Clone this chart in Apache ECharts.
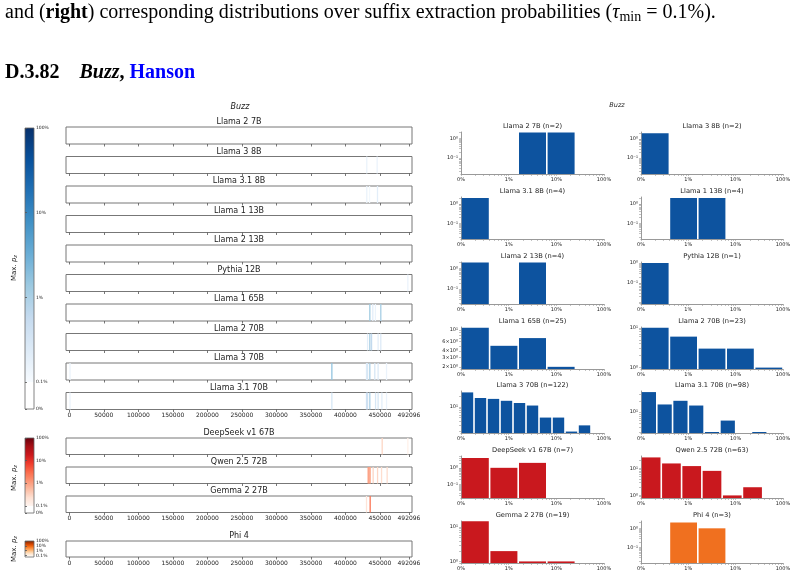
<!DOCTYPE html>
<html>
<head>
<meta charset="utf-8">
<title>Buzz</title>
<script src="https://cdn.jsdelivr.net/npm/echarts@6/dist/echarts.min.js"></script>
<style>body{margin:0;background:#fff;}</style>
</head>
<body>
<div id="main" style="width:797px;height:578px;"></div>
<script type="text/javascript">
// ---- data ----
var stripModels = ['Llama 2 7B', 'Llama 3 8B', 'Llama 3.1 8B', 'Llama 1 13B', 'Llama 2 13B',
    'Pythia 12B', 'Llama 1 65B', 'Llama 2 70B', 'Llama 3 70B', 'Llama 3.1 70B',
    'DeepSeek v1 67B', 'Qwen 2.5 72B', 'Gemma 2 27B', 'Phi 4'];
var stripCmap = ['Blues', 'Blues', 'Blues', 'Blues', 'Blues', 'Blues', 'Blues', 'Blues', 'Blues', 'Blues',
    'Reds', 'Reds', 'Reds', 'Oranges'];
// [suffix index, max p_z in %]
var stripHits = [
    [],
    [[431000, 0.15], [446000, 0.15]],
    [[431000, 0.15], [435000, 0.12], [446500, 0.2]],
    [],
    [],
    [[490500, 0.15]],
    [[435400, 1.3], [439700, 0.2], [443500, 0.15], [451300, 1.1]],
    [[432100, 0.2], [435400, 1.1], [437900, 0.6], [447400, 0.2], [451300, 0.25]],
    [[1000, 0.15], [380400, 1.6], [430600, 0.25], [432100, 0.3], [435400, 1.0], [442600, 0.3], [447400, 0.25], [459600, 0.15]],
    [[1000, 0.15], [380400, 0.3], [430600, 0.4], [432100, 0.4], [435400, 1.0], [443700, 0.3], [447400, 0.3], [452900, 0.2], [459600, 0.15]],
    [[453300, 0.3], [490500, 0.12]],
    [[433000, 1.0], [434400, 1.2], [435900, 0.8], [440200, 0.3], [446600, 0.3], [452400, 0.25], [460500, 0.25]],
    [[430600, 0.2], [435900, 2.5]],
    []
];
var posTicks = [0, 50000, 100000, 150000, 200000, 250000, 300000, 350000, 400000, 450000, 492096];
var cbarLabels = ['0%', '0.1%', '1%', '10%', '100%'];

var histTitles = ['Llama 2 7B (n=2)', 'Llama 3 8B (n=2)', 'Llama 3.1 8B (n=4)', 'Llama 1 13B (n=4)',
    'Llama 2 13B (n=4)', 'Pythia 12B (n=1)', 'Llama 1 65B (n=25)', 'Llama 2 70B (n=23)',
    'Llama 3 70B (n=122)', 'Llama 3.1 70B (n=98)', 'DeepSeek v1 67B (n=7)', 'Qwen 2.5 72B (n=63)',
    'Gemma 2 27B (n=19)', 'Phi 4 (n=3)'];
var histCounts = [
    [0, 0, 2, 2, 0],
    [2, 0, 0, 0, 0],
    [2, 0, 0, 0, 0],
    [0, 2, 2, 0, 0],
    [2, 0, 2, 0, 0],
    [1, 0, 0, 0, 0],
    [11, 5, 7, 2, 0],
    [10, 6, 3, 3, 1],
    [26, 18, 17, 15, 13, 11, 5, 5, 2, 3, 0],
    [34, 16, 20, 15, 3, 6, 0, 3, 0],
    [4, 1, 2, 0, 0],
    [25, 15, 12, 8, 1, 2, 0],
    [15, 2, 1, 1, 0],
    [0, 2, 1, 0, 0]
];
var histColor = ['blue', 'blue', 'blue', 'blue', 'blue', 'blue', 'blue', 'blue', 'blue', 'blue', 'red', 'red', 'red', 'orange'];
var histYTicks = [[0.1, 1], [0.1, 1], [0.1, 1], [0.1, 1], [0.1, 1], [0.1, 1], [2, 3, 4, 6, 10], [1, 10],
    [10], [10], [0.1, 1], [1, 10], [1, 10], [0.1, 1]];
var histXLabels = ['0%', '1%', '10%', '100%'];

// ---- layout / style ----
var histYRange = [[-1.83, 0.33], [-1.84, 0.36], [-1.8, 0.35], [-1.8, 0.35], [-1.75, 0.33], [-2.07, 0.05],
    [0.26, 1.055], [-0.035, 1.02], [0.26, 1.455], [0.45, 1.56], [-1.84, 0.72], [-0.095, 1.45],
    [-0.046, 1.18], [-1.8, 0.38]];
var stripTops = [127, 156.5, 186, 215.5, 245, 274.5, 304, 333.5, 363, 392.5, 438, 467, 496, 541];
var stripH = [17, 17, 17, 17, 17, 17, 17, 17, 17, 17, 16.5, 16.5, 16.5, 16];
var stripLabelled = [9, 12, 13];
var histTops = [132, 197, 262, 327, 391, 456, 521];
var barColors = {blue: '#0d539f', red: '#c9181e', orange: '#f0701f'};
var palettes = {
    Blues: ['#f7fbff', '#deebf7', '#c6dbef', '#9ecae1', '#6baed6', '#4292c6', '#2171b5', '#08519c', '#08306b'],
    Reds: ['#fff5f0', '#fee0d2', '#fcbba1', '#fc9272', '#fb6a4a', '#ef3b2c', '#cb181d', '#a50f15', '#67000d'],
    Oranges: ['#fff5eb', '#fee6ce', '#fdd0a2', '#fdae6b', '#fd8d3c', '#f16913', '#d94801', '#a63603', '#7f2704']
};
var LIN = 0.318; // share of one decade given to the 0 - 0.1% part of the colour scale
var FONT = 'DejaVu Sans';

function hexToRgb(h) {
    return [parseInt(h.substr(1, 2), 16), parseInt(h.substr(3, 2), 16), parseInt(h.substr(5, 2), 16)];
}
function cmapAt(name, t) {
    var p = palettes[name];
    t = Math.max(0, Math.min(1, t)) * (p.length - 1);
    var i = Math.min(Math.floor(t), p.length - 2), f = t - i;
    var a = hexToRgb(p[i]), b = hexToRgb(p[i + 1]);
    return 'rgb(' + [0, 1, 2].map(function (k) { return Math.round(a[k] + (b[k] - a[k]) * f); }).join(',') + ')';
}
function cmapColor(name, pct) {
    if (pct < 0.1) return '#ffffff';
    return cmapAt(name, (Math.log10(pct) + 1) / 3);
}
var SUP = {'0': '\u2070', '1': '\u00b9', '2': '\u00b2', '3': '\u00b3', '-': '\u207b'};
function sup(s) {
    return String(s).split('').map(function (c) { return SUP[c] || c; }).join('');
}
function fmtCount(c) {
    var e = Math.floor(Math.log10(c) + 1e-9);
    var m = Math.round(c / Math.pow(10, e));
    return m === 1 ? '10' + sup(e) : m + '\u00d710' + sup(e);
}

var grids = [], xAxes = [], yAxes = [], series = [], graphics = [];

function addText(x, y, text, size, opts) {
    opts = opts || {};
    graphics.push({
        type: 'text', x: x, y: y, rotation: opts.rotation || 0, silent: true,
        style: {
            text: text, fill: opts.color || '#222', align: opts.align || 'center', verticalAlign: 'middle',
            fontSize: size, fontFamily: opts.family || FONT, fontStyle: opts.style || 'normal',
            fontWeight: opts.weight || 'normal', rich: opts.rich
        }
    });
}

// ---- left: position strips ----
stripModels.forEach(function (name, i) {
    var g = grids.length;
    grids.push({left: 66, top: stripTops[i], width: 346, height: stripH[i], show: true,
        borderColor: '#777', borderWidth: 1, backgroundColor: '#fff'});
    var showLab = stripLabelled.indexOf(i) >= 0;
    xAxes.push({
        type: 'value', gridIndex: g, min: -4800, max: 496500,
        axisLine: {show: false}, splitLine: {show: false},
        axisTick: {show: true, length: 2.5, customValues: posTicks, lineStyle: {color: '#555', width: 0.8}},
        axisLabel: {show: showLab, customValues: posTicks, fontSize: 6, color: '#222', margin: 3,
            fontFamily: FONT, formatter: function (v) { return String(v); }}
    });
    yAxes.push({type: 'value', gridIndex: g, min: 0, max: 1, show: false});
    series.push({
        type: 'bar', xAxisIndex: xAxes.length - 1, yAxisIndex: yAxes.length - 1,
        barWidth: 1.3, silent: true,
        data: stripHits[i].map(function (h) {
            return {value: [h[0], 1], itemStyle: {color: cmapColor(stripCmap[i], h[1])}};
        })
    });
    addText(239, stripTops[i] - 5, name, 8);
});

// ---- colour bars ----
var cbars = [
    {cmap: 'Blues', top: 128, height: 281, labelY: 268, labels: [0, 1, 2, 3, 4]},
    {cmap: 'Reds', top: 438, height: 75, labelY: 478, labels: [0, 1, 2, 3, 4]},
    {cmap: 'Oranges', top: 541, height: 16, labelY: 549, labels: [1, 2, 3, 4]}
];
var cbarPos = [0, LIN, LIN + 1, LIN + 2, LIN + 3];
cbars.forEach(function (cb) {
    var g = grids.length;
    var off = LIN / (LIN + 3);
    var stops = [{offset: 0, color: '#ffffff'}, {offset: off, color: '#ffffff'}];
    palettes[cb.cmap].forEach(function (c, k, arr) {
        stops.push({offset: off + (1 - off) * k / (arr.length - 1), color: c});
    });
    grids.push({left: 25, width: 9, top: cb.top, height: cb.height, show: true,
        borderColor: '#666', borderWidth: 0.8,
        backgroundColor: new echarts.graphic.LinearGradient(0, 1, 0, 0, stops)});
    xAxes.push({type: 'value', gridIndex: g, min: 0, max: 1, show: false});
    var vals = cb.labels.map(function (k) { return cbarPos[k]; });
    yAxes.push({
        type: 'value', gridIndex: g, min: 0, max: LIN + 3, position: 'right',
        axisLine: {show: false}, splitLine: {show: false},
        axisTick: {show: true, length: 2, customValues: vals, lineStyle: {color: '#555', width: 0.8}},
        axisLabel: {customValues: vals, fontSize: 4.5, color: '#222', margin: 2, fontFamily: FONT,
            formatter: function (v) {
                for (var k = 0; k < cbarPos.length; k++) { if (Math.abs(cbarPos[k] - v) < 1e-6) return cbarLabels[k]; }
                return '';
            }}
    });
    addText(14, cb.labelY, '{a|Max. }{b|p}{c|z}', 7, {rotation: Math.PI / 2,
        rich: {a: {fontSize: 7, fontFamily: FONT, fill: '#222'},
            b: {fontSize: 7, fontFamily: FONT, fontStyle: 'italic', fill: '#222'},
            c: {fontSize: 5, fontFamily: FONT, fontStyle: 'italic', fill: '#222', padding: [4, 0, 0, 0]}}});
});

// ---- right: histograms ----
var xMinor = [];
for (var k = 0; k < 3; k++) { for (var m = 1; m < 10; m++) xMinor.push(k + Math.log10(m)); }
xMinor.push(3);

histTitles.forEach(function (title, i) {
    var col = i % 2, row = Math.floor(i / 2);
    var left = col ? 641 : 461, width = col ? 142 : 143, top = histTops[row];
    var lo = histYRange[i][0], hi = histYRange[i][1];
    var n = histCounts[i].length;
    var g = grids.length;
    grids.push({left: left, top: top, width: width, height: 42});
    var cats = [];
    for (var b = 0; b < n; b++) cats.push(b);
    xAxes.push({type: 'category', gridIndex: g, data: cats, show: false, position: 'top'});
    var catIdx = xAxes.length - 1;
    xAxes.push({
        type: 'value', gridIndex: g, min: 0, max: 3, position: 'bottom',
        axisLine: {show: true, lineStyle: {color: '#999', width: 1}}, splitLine: {show: false},
        axisTick: {show: true, length: 2, customValues: xMinor, lineStyle: {color: '#999', width: 0.6}},
        axisLabel: {customValues: [0, 1, 2, 3], fontSize: 5, color: '#222', margin: 3, fontFamily: FONT,
            formatter: function (v) { return histXLabels[Math.round(v)]; }}
    });
    var yt = [];
    for (var e = Math.floor(lo); e <= Math.ceil(hi); e++) {
        for (var mm = 1; mm < 10; mm++) {
            var lv = e + Math.log10(mm);
            if (lv >= lo && lv <= hi) yt.push(lv - lo);
        }
    }
    var ylab = histYTicks[i].map(function (c) { return Math.log10(c) - lo; });
    yAxes.push({
        type: 'value', gridIndex: g, min: 0, max: hi - lo,
        axisLine: {show: true, lineStyle: {color: '#999', width: 1}}, splitLine: {show: false},
        axisTick: {show: true, length: 2, customValues: yt, lineStyle: {color: '#999', width: 0.6}},
        axisLabel: {customValues: ylab, fontSize: 5, color: '#222', margin: 3, fontFamily: FONT,
            formatter: function (v) { return fmtCount(Math.pow(10, v + lo)); }}
    });
    series.push({
        type: 'bar', xAxisIndex: catIdx, yAxisIndex: yAxes.length - 1,
        barWidth: width / n - 1.6, silent: true,
        itemStyle: {color: barColors[histColor[i]]},
        data: histCounts[i].map(function (c) { return c > 0 ? Math.log10(c) - lo : '-'; })
    });
    addText(left + width / 2, top - 5.5, title, 6.7);
});

// ---- titles and page text ----
addText(240, 107, 'Buzz', 8, {style: 'italic'});
addText(617, 105, 'Buzz', 6.5, {style: 'italic'});
var SERIF = 'Liberation Serif';
addText(5, 13, '{n|and (}{b|right}{n|) corresponding distributions over suffix extraction probabilities (}{i|\u03c4}{s|min}{n| = 0.1%).}', 20, {
    align: 'left', family: SERIF,
    rich: {n: {fontSize: 20, fontFamily: SERIF, fill: '#000'},
        b: {fontSize: 20, fontFamily: SERIF, fontWeight: 'bold', fill: '#000'},
        i: {fontSize: 20, fontFamily: SERIF, fontStyle: 'italic', fill: '#000'},
        s: {fontSize: 14, fontFamily: SERIF, fill: '#000', padding: [9, 0, 0, 0]}}
});
addText(5, 73, '{b|D.3.82}{g|    }{i|Buzz}{b|, }{h|Hanson}', 20, {
    align: 'left', family: SERIF,
    rich: {b: {fontSize: 20, fontFamily: SERIF, fontWeight: 'bold', fill: '#000'},
        g: {fontSize: 20, fontFamily: SERIF, fill: '#000'},
        i: {fontSize: 20, fontFamily: SERIF, fontWeight: 'bold', fontStyle: 'italic', fill: '#000'},
        h: {fontSize: 20, fontFamily: SERIF, fontWeight: 'bold', fill: '#0000ff'}}
});

var myChart = echarts.init(document.getElementById('main'));
myChart.setOption({
    animation: false,
    backgroundColor: '#fff',
    grid: grids,
    xAxis: xAxes,
    yAxis: yAxes,
    series: series,
    graphic: graphics
});
</script>
</body>
</html>
